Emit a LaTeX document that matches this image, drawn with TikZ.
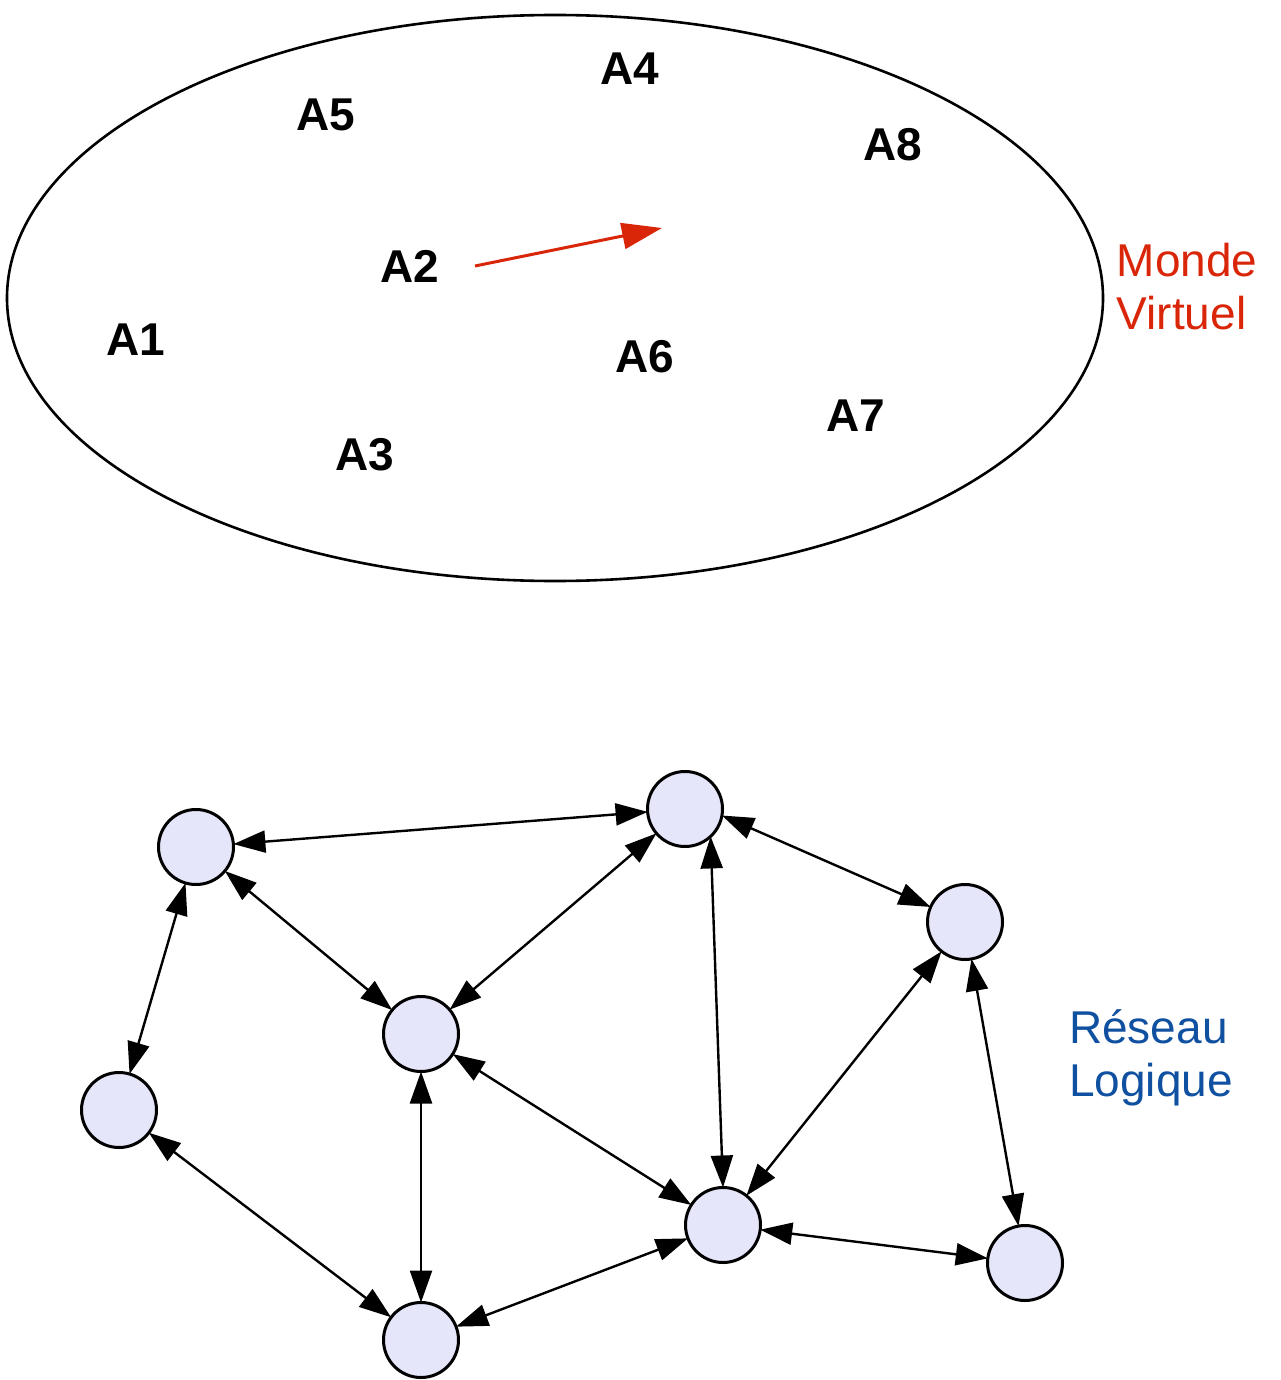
\documentclass[tikz,border=0pt]{standalone}
\usepackage{fontspec}
\setmainfont{Liberation Sans}
\usetikzlibrary{arrows.meta}
\definecolor{peerfill}{RGB}{230,230,250}
\definecolor{mondered}{RGB}{218,38,8}
\definecolor{reseaublue}{RGB}{16,80,160}

\begin{document}
\begin{tikzpicture}[x=0.5pt,y=-0.5pt,
		agent/.style={font=\fontsize{23}{26}\selectfont\bfseries},
		peer/.style={circle,draw,line width=1.5pt,fill=peerfill,minimum size=37.5pt,inner sep=0pt,outer sep=0pt},
		link/.style={<->,>={Triangle[length=16pt,width=11pt]},line width=1.2pt}]
			%%%%% START %%%%%
			\useasboundingbox (0,0) rectangle (1280,1380);
			
			\draw[line width=1.3pt] (555,298) ellipse [x radius=274pt, y radius=141.5pt];
			
			\node[agent] (a4) at (630,69) {A4};
			\node[agent] (a5) at (326,115) {A5};
			\node[agent] (a8) at (893,145) {A8};
			\node[agent] (a2) at (410,266) {A2};
			\node[agent] (a1) at (136,340) {A1};
			\node[agent] (a6) at (645,357) {A6};
			\node[agent] (a7) at (856,416) {A7};
			\node[agent] (a3) at (365,455) {A3};
			
			\coordinate (moveS) at (475,266);
			\coordinate (moveE) at (662,228);
			\draw[-{Triangle[length=20pt,width=13pt]},line width=1.5pt,color=mondered] (moveS) -- (moveE);
			
			\node[color=mondered,align=left,font=\fontsize{23}{26.5}\selectfont] (monde) at (1187,287) {Monde\\Virtuel};
			
			%%%%% RESEAU %%%%%
			
			\node[peer] (pTL) at (196,847) {};
			\node[peer] (pT) at (685,809) {};
			\node[peer] (pR) at (965,922) {};
			\node[peer] (pM) at (421,1034) {};
			\node[peer] (pL) at (119,1110) {};
			\node[peer] (pC) at (723,1225) {};
			\node[peer] (pBR) at (1025,1263) {};
			\node[peer] (pB) at (421,1340) {};
			
			\draw[link] (pTL) -- (pT);
			\draw[link] (pTL) -- (pM);
			\draw[link] (pTL) -- (pL);
			\draw[link] (pT) -- (pM);
			\draw[link] (pT.-47) -- (pC.north);
			\draw[link] (pT.-10) -- (pR);
			\draw[link] (pR) -- (pC);
			\draw[link] (pR) -- (pBR);
			\draw[link] (pM) -- (pC);
			\draw[link] (pM) -- (pB);
			\draw[link] (pL) -- (pB);
			\draw[link] (pB) -- (pC);
			\draw[link] (pC) -- (pBR);
			
			\node[color=reseaublue,align=left,font=\fontsize{23}{26.5}\selectfont] (reseau) at (1151,1058) {Réseau\\Logique};
			
			%%%%% END %%%%%
		\end{tikzpicture}
\end{document}
